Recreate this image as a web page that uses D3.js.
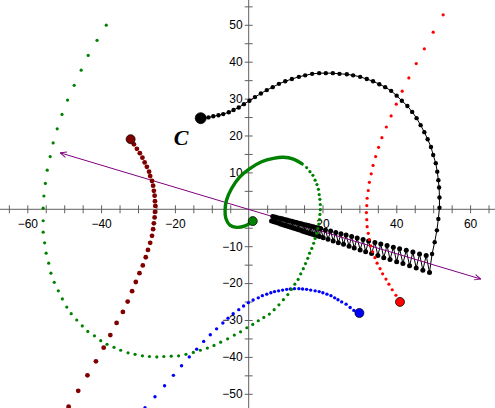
<!DOCTYPE html>
<html><head><meta charset="utf-8">
<script src="https://cdn.jsdelivr.net/npm/d3@7"></script>
<style>body{margin:0;background:#fff}svg{display:block}</style>
</head><body><svg id="c" width="495" height="408"></svg>
<script>
// ---- data (chart units) ----
const xTicks = [-65,-60,-55,-50,-45,-40,-35,-30,-25,-20,-15,-10,-5,5,10,15,20,25,30,35,40,45,50,55,60,65];
const yTicks = [-50,-45,-40,-35,-30,-25,-20,-15,-10,-5,5,10,15,20,25,30,35,40,45,50,55];
const xLabels = [-60,-40,-20,20,40,60];
const yLabels = [-50,-40,-30,-20,-10,10,20,30,40,50];

const purpleLine = [[-51.1,15.3],[62.9,-18.9]];

const blackPts = [[-13.0,24.7],[-10.9,24.9],[-9.6,25.2],[-8.2,25.5],[-6.9,25.8],[-5.4,26.3],[-4.1,26.9],[-2.7,27.6],[-1.3,28.5],[0.2,29.4],[1.7,30.4],[3.3,31.4],[4.9,32.3],[6.5,33.1],[8.2,34.0],[9.9,34.7],[11.7,35.3],[13.6,35.9],[15.3,36.3],[17.2,36.7],[19.1,36.9],[20.9,36.9],[22.8,36.9],[24.6,36.7],[26.6,36.6],[28.3,36.3],[30.2,35.9],[32.0,35.3],[33.7,34.7],[35.4,33.9],[37.0,33.1],[38.6,32.1],[40.1,30.8],[41.5,29.4],[43.0,28.0],[44.3,26.4],[45.5,24.7],[46.6,22.8],[47.6,20.9],[48.5,19.0],[49.4,16.9],[50.0,14.7],[50.7,12.5],[51.1,10.2],[51.4,7.9],[51.6,5.9],[51.7,3.2],[51.7,0.4],[51.4,-2.6],[51.0,-5.7],[50.4,-8.9],[49.7,-12.1],
[49.0,-17.1],[48.1,-12.5],[47.2,-16.5],[46.3,-12.1],[45.4,-15.9],[44.5,-11.6],[43.6,-15.3],[42.7,-11.1],[41.8,-14.7],[40.9,-10.7],[40.1,-14.2],[39.2,-10.3],[38.3,-13.6],[37.5,-9.8],[36.6,-13.1],[35.8,-9.4],[35.0,-12.5],[34.2,-9.0],[33.3,-12.0],[32.5,-8.6],[31.7,-11.5],[31.0,-8.2],[30.2,-11.0],[29.4,-7.8],[28.6,-10.5],[27.9,-7.4],[27.2,-10.0],[26.4,-7.0],[25.7,-9.5],[25.0,-6.6],[24.3,-9.1],[23.6,-6.3],[22.9,-8.6],[22.2,-5.9],[21.5,-8.1],[20.8,-5.6],[20.2,-7.7],[19.5,-5.2],
[19.19,-7.40],[18.86,-5.08],[18.54,-7.19],[18.21,-4.92],[17.89,-6.98],[17.56,-4.75],[17.24,-6.77],[16.91,-4.58],[16.59,-6.56],[16.26,-4.42],[15.94,-6.35],[15.61,-4.25],[15.29,-6.13],[14.96,-4.09],[14.64,-5.92],[14.31,-3.92],[13.99,-5.71],[13.66,-3.75],[13.34,-5.50],[13.01,-3.59],[12.69,-5.29],[12.36,-3.42],[12.04,-5.08],[11.71,-3.26],[11.39,-4.87],[11.06,-3.09],[10.74,-4.66],[10.41,-2.93],[10.09,-4.44],[9.76,-2.76],[9.44,-4.23],[9.11,-2.59],[8.79,-4.02],[8.46,-2.43],[8.14,-3.81],[7.81,-2.26],[7.49,-3.60],[7.16,-2.10],[6.84,-3.39],[6.51,-1.93],[6.19,-3.18]];

const greenSolid = [[1.1,-3.2],[-1.0,-4.5],[-3.3,-4.9],[-5.1,-4.3],[-6.2,-2.4],[-6.4,-0.2],[-6.0,2.5],[-4.6,5.7],[-2.4,8.8],[0.4,11.1],[3.5,12.9],[6.7,13.8],[9.4,14.1],[12.1,13.6],[14.5,12.3]];
const greenDots = [[15.7,11.3],[16.6,10.2],[17.4,9.2],[18.0,7.9],[18.5,6.7],[18.9,5.4],[19.1,4.0],[19.3,2.7],[19.4,1.3],[19.4,-0.1],[19.3,-1.4],[19.2,-2.8],[19.0,-4.0],[18.7,-5.2],[18.4,-6.5],[18.0,-7.9],[17.6,-9.2],[17.1,-10.6],[16.5,-11.9],[16.0,-13.3],[15.4,-14.7],[14.8,-16.1],[14.1,-17.5],[13.4,-19.0],[12.5,-20.3],[11.6,-21.7],[10.6,-23.1],[9.4,-24.5],[8.2,-25.9],[6.9,-27.2],[5.6,-28.4],[4.1,-29.3],[2.6,-30.2],[1.1,-31.2],[-0.5,-32.1],[-2.2,-33.2],[-3.9,-34.1],[-5.7,-35.1],[-7.6,-36.0],[-9.4,-36.9],[-11.2,-37.6],[-13.1,-38.2],[-15.0,-38.8],[-17.0,-39.3],[-19.0,-39.7],[-21.0,-39.8],[-23.0,-39.9],[-24.9,-40.0],[-26.9,-39.9],[-28.8,-39.7],[-30.8,-39.3],[-32.7,-38.9],[-34.7,-38.2],[-36.5,-37.4],[-38.4,-36.6],[-40.1,-35.6],[-41.8,-34.3],[-43.6,-33.1],[-45.1,-31.6],[-46.6,-30.0],[-48.1,-28.3],[-49.3,-26.5],[-50.5,-24.3],[-51.6,-22.1],[-52.7,-19.8],[-53.6,-17.3],[-54.2,-14.6],[-54.9,-11.9],[-55.3,-9.1],[-55.7,-6.2],[-55.7,-3.1],[-55.7,0.3],[-55.5,3.6],[-55.1,7.0],[-54.6,10.6],[-53.8,14.3],[-53.0,18.0],[-51.9,21.8],[-50.6,25.7],[-49.1,29.6],[-47.3,33.6],[-45.4,37.7],[-43.5,41.7],[-41.1,45.8],[-38.6,49.9]];

const darkRedPts = [[-32.0,19.0],[-31.1,17.6],[-30.3,16.4],[-29.5,15.2],[-28.8,14.0],[-28.2,12.7],[-27.6,11.5],[-27.0,10.2],[-26.7,9.0],[-26.2,7.7],[-25.9,6.4],[-25.7,5.0],[-25.5,3.7],[-25.4,2.2],[-25.3,0.9],[-25.4,-0.7],[-25.5,-2.2],[-25.7,-3.8],[-25.9,-5.4],[-26.2,-7.2],[-26.7,-9.1],[-27.3,-11.0],[-27.9,-13.0],[-28.7,-15.2],[-29.6,-17.3],[-30.6,-19.7],[-31.6,-22.2],[-32.8,-25.0],[-34.1,-27.8],[-35.8,-30.8],[-37.5,-34.1],[-39.3,-37.5],[-41.4,-41.2],[-43.7,-45.0],[-46.2,-49.2],[-48.8,-53.5]];

const redPts = [[41.0,-25.1],[39.9,-23.3],[38.9,-21.8],[38.0,-20.3],[37.2,-18.9],[36.3,-17.5],[35.6,-16.1],[34.8,-14.6],[34.2,-13.1],[33.6,-11.5],[33.1,-9.9],[32.7,-8.2],[32.4,-6.5],[32.1,-4.7],[32.0,-2.8],[31.9,-0.9],[32.0,1.0],[32.1,3.0],[32.4,5.1],[32.7,7.3],[33.2,9.6],[33.7,11.9],[34.4,14.3],[35.2,16.8],[36.1,19.4],[37.3,22.3],[38.6,25.3],[40.0,28.5],[41.6,32.0],[43.4,35.6],[45.4,39.5],[47.6,43.5],[50.0,48.0],[52.7,52.7]];

const bluePts = [[30.0,-28.1],[28.5,-27.4],[27.5,-26.6],[26.4,-25.7],[25.2,-25.1],[24.2,-24.5],[23.3,-24.0],[22.3,-23.4],[21.2,-23.0],[20.1,-22.6],[19.1,-22.3],[18.0,-22.1],[16.8,-21.9],[15.7,-21.7],[14.6,-21.6],[13.6,-21.5],[12.4,-21.5],[11.3,-21.6],[10.3,-21.7],[9.2,-21.9],[8.1,-22.1],[7.0,-22.3],[6.0,-22.6],[4.9,-23.0],[3.7,-23.4],[2.6,-24.0],[1.2,-24.6],[-0.1,-25.3],[-1.4,-26.2],[-2.7,-27.2],[-4.2,-28.3],[-5.6,-29.5],[-7.0,-30.8],[-8.7,-32.4],[-10.4,-34.0],[-12.2,-35.8],[-14.1,-37.9],[-16.1,-40.0],[-18.2,-42.4],[-20.4,-45.0],[-22.8,-47.8],[-25.4,-50.8],[-28.1,-53.8]];

const pointLabel = "C";

// ---- drawing ----
const W = 495, H = 408;
const x = d3.scaleLinear().domain([-67.4, 66.75]).range([0, W]);
const y = d3.scaleLinear().domain([-53.85, 56.72]).range([H, 0]);
const svg = d3.select('#c');
const font = 'Arial, "Liberation Sans", sans-serif';

// axes
const axisCol = '#606060';
svg.append('line').attr('x1',0).attr('x2',W).attr('y1',y(0)).attr('y2',y(0)).attr('stroke',axisCol);
svg.append('line').attr('y1',0).attr('y2',H).attr('x1',x(0)).attr('x2',x(0)).attr('stroke',axisCol);

const gx = svg.append('g').attr('transform',`translate(0,${y(0)})`)
  .call(d3.axisBottom(x).tickValues(xTicks).tickSize(4).tickFormat(''));
gx.select('.domain').remove();
gx.selectAll('.tick line').attr('y1',-4).attr('y2',4).attr('stroke',axisCol);

const gy = svg.append('g').attr('transform',`translate(${x(0)},0)`)
  .call(d3.axisLeft(y).tickValues(yTicks).tickSize(4).tickFormat(''));
gy.select('.domain').remove();
gy.selectAll('.tick line').attr('x1',-4).attr('x2',4).attr('stroke',axisCol);

const gxl = svg.append('g').attr('transform',`translate(0,${y(0)})`)
  .call(d3.axisBottom(x).tickValues(xLabels).tickSize(0).tickPadding(10));
gxl.select('.domain').remove();
gxl.selectAll('text').attr('font-family',font).attr('font-size',12).attr('fill','#000');

const gyl = svg.append('g').attr('transform',`translate(${x(0)},0)`)
  .call(d3.axisLeft(y).tickValues(yLabels).tickSize(0).tickPadding(6));
gyl.select('.domain').remove();
gyl.selectAll('text').attr('font-family',font).attr('font-size',12).attr('fill','#000');

// arrow marker
const defs = svg.append('defs');
defs.append('marker').attr('id','arr').attr('viewBox','0 0 10 10').attr('refX',10).attr('refY',5)
  .attr('markerWidth',7).attr('markerHeight',7).attr('markerUnits','userSpaceOnUse')
  .attr('orient','auto-start-reverse')
  .append('path').attr('d','M1,1 L10,5 L1,9').attr('fill','none').attr('stroke','#800080').attr('stroke-width',1.3);

const line = d3.line().x(d=>x(d[0])).y(d=>y(d[1]));

// black curve
svg.append('path').datum(blackPts).attr('d',line).attr('fill','none').attr('stroke','#000').attr('stroke-width',1);

// purple line with arrows
svg.append('path').datum(purpleLine).attr('d',line).attr('fill','none').attr('stroke','#800080').attr('stroke-width',1)
  .attr('marker-start','url(#arr)').attr('marker-end','url(#arr)');

svg.append('g').selectAll('circle').data(blackPts.slice(1)).join('circle')
  .attr('cx',d=>x(d[0])).attr('cy',d=>y(d[1])).attr('r',(d,i)=> i < 51 ? 2.2 : 2.5).attr('fill','#000');

// blue
svg.append('g').selectAll('circle').data(bluePts.slice(1)).join('circle')
  .attr('cx',d=>x(d[0])).attr('cy',d=>y(d[1])).attr('r',1.7).attr('fill','#0000ff');

// green solid + dots
svg.append('path').datum(greenSolid).attr('d',line.curve(d3.curveCatmullRom)).attr('fill','none')
  .attr('stroke','#008000').attr('stroke-width',3.4).attr('stroke-linecap','round');
line.curve(d3.curveLinear);
svg.append('g').selectAll('circle').data(greenDots).join('circle')
  .attr('cx',d=>x(d[0])).attr('cy',d=>y(d[1])).attr('r',1.6).attr('fill','#008000');

// dark red
svg.append('g').selectAll('circle').data(darkRedPts.slice(1)).join('circle')
  .attr('cx',d=>x(d[0])).attr('cy',d=>y(d[1])).attr('r',2.4).attr('fill','#800000');

// red
svg.append('g').selectAll('circle').data(redPts.slice(1)).join('circle')
  .attr('cx',d=>x(d[0])).attr('cy',d=>y(d[1])).attr('r',1.6).attr('fill','#ff0000');

// big points
const big = [
  {p: greenSolid[0], c:'#008000', r:4.5},
  {p: bluePts[0], c:'#0000ff', r:4.5},
  {p: redPts[0], c:'#ff0000', r:4.5},
  {p: darkRedPts[0], c:'#800000', r:4.5},
  {p: blackPts[0], c:'#000000', r:5.5}
];
svg.append('g').selectAll('circle').data(big).join('circle')
  .attr('cx',d=>x(d.p[0])).attr('cy',d=>y(d.p[1])).attr('r',d=>d.r)
  .attr('fill',d=>d.c).attr('stroke','#000').attr('stroke-opacity',0.75).attr('stroke-width',1);

svg.append('text').attr('x',x(blackPts[0][0])-27).attr('y',y(blackPts[0][1])+27)
  .attr('font-family','"Liberation Serif","Times New Roman",serif').attr('font-style','italic').attr('font-weight','bold')
  .attr('font-size',22).attr('fill','#000').text(pointLabel);
</script></body></html>
